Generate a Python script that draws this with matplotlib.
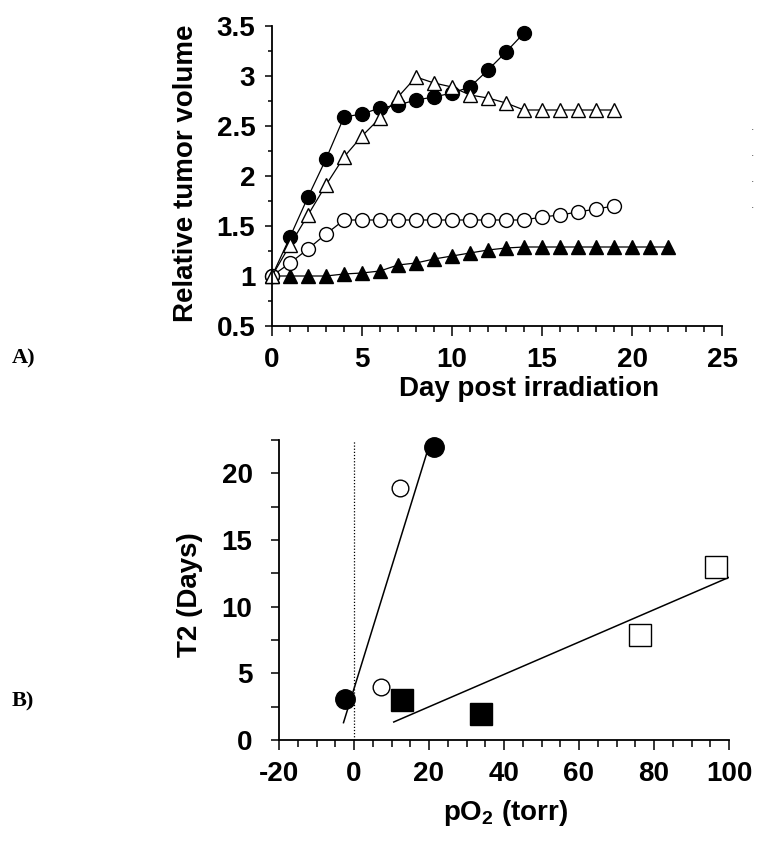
import numpy as np
import matplotlib
matplotlib.use("Agg")
import matplotlib.pyplot as plt
from matplotlib.ticker import MultipleLocator, FormatStrFormatter

plt.rcParams['font.family'] = ['Liberation Sans', 'DejaVu Sans']
plt.rcParams['font.weight'] = 'bold'
plt.rcParams['axes.unicode_minus'] = False
plt.rcParams['mathtext.fontset'] = 'custom'
plt.rcParams['mathtext.rm'] = 'Liberation Sans:bold'
plt.rcParams['mathtext.bf'] = 'Liberation Sans:bold'

#### Data : panel A (relative tumor volume) ####

days_fc = list(range(0, 15))
vol_fc = [1.0, 1.39, 1.79, 2.17, 2.59, 2.62, 2.68, 2.71, 2.76, 2.79, 2.83, 2.89, 3.06, 3.24, 3.43]

days_ot = list(range(0, 20))
vol_ot = [1.0, 1.31, 1.61, 1.91, 2.19, 2.40, 2.58, 2.79, 2.99, 2.93, 2.89, 2.81, 2.78, 2.73,
          2.66, 2.66, 2.66, 2.66, 2.66, 2.66]

days_oc = list(range(0, 20))
vol_oc = [1.0, 1.13, 1.27, 1.42, 1.56, 1.56, 1.56, 1.56, 1.56, 1.56, 1.56, 1.56, 1.56, 1.56,
          1.56, 1.59, 1.61, 1.64, 1.67, 1.70]

days_ft = list(range(0, 23))
vol_ft = [1.0, 1.0, 1.0, 1.0, 1.02, 1.03, 1.05, 1.11, 1.13, 1.17, 1.20, 1.23, 1.26, 1.28,
          1.29, 1.29, 1.29, 1.29, 1.29, 1.29, 1.29, 1.29, 1.29]

#### Data : panel B (T2 vs pO2) ####

po2_fc = [-2.3, 21.2]
t2_fc = [3.05, 22.0]
po2_oc = [7.3, 12.3]
t2_oc = [4.0, 18.9]
po2_fs = [12.9, 33.9]
t2_fs = [3.0, 1.95]
po2_os = [76.2, 96.4]
t2_os = [7.85, 12.95]

# droites de regression (extremites)
fit1_x = [-2.8, 19.5]
fit1_y = [1.3, 21.6]
fit2_x = [10.6, 100.0]
fit2_y = [1.35, 12.2]

#### Figure ####

W, H = 761, 846
fig = plt.figure(figsize=(W / 100, H / 100), dpi=100)


def box(left, top, right, bottom):
    return [left / W, 1 - bottom / H, (right - left) / W, (bottom - top) / H]


def style_axes(ax):
    for s in ['top', 'right']:
        ax.spines[s].set_visible(False)
    for s in ['left', 'bottom']:
        ax.spines[s].set_linewidth(1.3)
    ax.tick_params(which='both', direction='out', width=1.1, labelsize=20)


lw = 0.9
ax1 = fig.add_axes(box(272, 26, 722, 326))
ax1.plot(days_ft, vol_ft, '-^', color='black', mfc='black', mec='black', ms=10, lw=lw, clip_on=False)
ax1.plot(days_fc, vol_fc, '-o', color='black', mfc='black', mec='black', ms=10, lw=lw, clip_on=False)
ax1.plot(days_oc, vol_oc, '-o', color='black', mfc='white', mec='black', ms=10, mew=1.0, lw=lw, clip_on=False)
ax1.plot(days_ot, vol_ot, '-^', color='black', mfc='white', mec='black', ms=10.5, mew=1.0, lw=lw, clip_on=False)

ax1.set_xlim(0, 25)
ax1.set_ylim(0.5, 3.5)
ax1.xaxis.set_major_locator(MultipleLocator(5))
ax1.xaxis.set_minor_locator(MultipleLocator(1))
ax1.yaxis.set_major_locator(MultipleLocator(0.5))
ax1.yaxis.set_minor_locator(MultipleLocator(0.25))
ax1.yaxis.set_major_formatter(FormatStrFormatter('%g'))
style_axes(ax1)
ax1.tick_params(axis='x', which='major', length=7, pad=8)
ax1.tick_params(axis='x', which='minor', length=4)
ax1.tick_params(axis='y', which='major', length=5, pad=7)
ax1.tick_params(axis='y', which='minor', length=3)

ax1.set_ylabel('Relative tumor volume', fontsize=20, fontweight='bold')
ax1.yaxis.set_label_coords(-0.191, 0.51)
ax1.yaxis.label.set_va('center')
ax1.set_xlabel('Day post irradiation', fontsize=20, fontweight='bold')
ax1.xaxis.set_label_coords(0.571, -0.21)
ax1.xaxis.label.set_va('center')

ax2 = fig.add_axes(box(279, 440, 729, 740))
ax2.axvline(0, color='black', lw=0.9, ls=(0, (1.0, 1.5)))
ax2.plot(fit1_x, fit1_y, '-', color='black', lw=1.1)
ax2.plot(fit2_x, fit2_y, '-', color='black', lw=1.1)
ax2.plot(po2_fc, t2_fc, 'o', mfc='black', mec='black', ms=14, clip_on=False)
ax2.plot(po2_oc, t2_oc, 'o', mfc='white', mec='black', ms=12, mew=1.0, clip_on=False)
ax2.plot(po2_fs, t2_fs, 's', mfc='black', mec='black', ms=16, clip_on=False)
ax2.plot(po2_os, t2_os, 's', mfc='white', mec='black', ms=16, mew=1.0, clip_on=False)

ax2.set_xlim(-20, 100)
ax2.set_ylim(0, 22.5)
ax2.xaxis.set_major_locator(MultipleLocator(20))
ax2.xaxis.set_minor_locator(MultipleLocator(5))
ax2.yaxis.set_major_locator(MultipleLocator(5))
ax2.yaxis.set_minor_locator(MultipleLocator(2.5))
style_axes(ax2)
ax2.tick_params(axis='x', which='major', length=7, pad=8)
ax2.tick_params(axis='x', which='minor', length=5)
ax2.tick_params(axis='y', which='both', length=6, pad=13)

ax2.set_ylabel('T2 (Days)', fontsize=20, fontweight='bold')
ax2.yaxis.set_label_coords(-0.198, 0.483)
ax2.yaxis.label.set_va('center')
ax2.set_xlabel('pO$_2$ (torr)', fontsize=20, fontweight='bold')
ax2.xaxis.set_label_coords(0.504, -0.243)
ax2.xaxis.label.set_va('center')

# etiquettes des panneaux
fig.text(12 / W, 1 - 358 / H, 'A)', fontsize=16, fontweight='bold',
         family=['Liberation Serif'], ha='left', va='center')
fig.text(12 / W, 1 - 701 / H, 'B)', fontsize=16, fontweight='bold',
         family=['Liberation Serif'], ha='left', va='center')

# petits points residuels a droite
for yy in [128, 155, 181, 207]:
    fig.text(752 / W, 1 - yy / H, '.', fontsize=4, ha='center', va='center')

fig.savefig('out.png', dpi=100)
